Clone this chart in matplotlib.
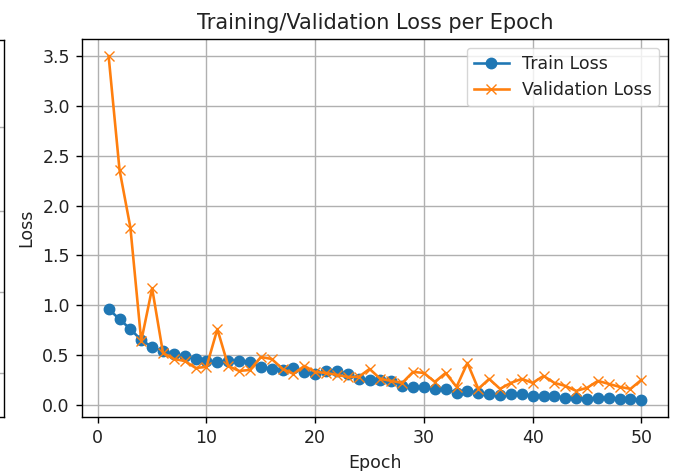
import matplotlib
matplotlib.use("Agg")
import matplotlib.pyplot as plt

epochs = list(range(1, 51))
train_loss = [0.96, 0.86, 0.76, 0.65, 0.58, 0.54, 0.51, 0.49, 0.46, 0.44,
              0.43, 0.44, 0.44, 0.43, 0.38, 0.36, 0.35, 0.37, 0.33, 0.31,
              0.34, 0.34, 0.31, 0.26, 0.25, 0.25, 0.24, 0.19, 0.18, 0.18,
              0.16, 0.16, 0.12, 0.14, 0.12, 0.11, 0.10, 0.11, 0.11, 0.09,
              0.09, 0.09, 0.07, 0.07, 0.06, 0.07, 0.07, 0.06, 0.06, 0.05]
val_loss = [3.50, 2.36, 1.78, 0.64, 1.17, 0.52, 0.46, 0.44, 0.37, 0.38,
            0.76, 0.39, 0.34, 0.35, 0.48, 0.46, 0.36, 0.31, 0.39, 0.33,
            0.32, 0.30, 0.28, 0.28, 0.36, 0.26, 0.24, 0.22, 0.33, 0.32,
            0.23, 0.32, 0.18, 0.42, 0.16, 0.26, 0.16, 0.22, 0.26, 0.22,
            0.29, 0.22, 0.19, 0.14, 0.17, 0.24, 0.21, 0.18, 0.16, 0.25]

title = "Training/Validation Loss per Epoch"
xlabel = "Epoch"
ylabel = "Loss"

s = 1.25
plt.rcParams.update({
    'font.size': 10 * s,
    'axes.titlesize': 12 * s,
    'axes.labelsize': 10 * s,
    'xtick.labelsize': 10 * s,
    'ytick.labelsize': 10 * s,
    'legend.fontsize': 10 * s,
    'lines.linewidth': 1.5 * s,
    'lines.markersize': 6 * s,
    'axes.linewidth': 0.8 * s,
    'grid.linewidth': 0.8 * s,
    'xtick.major.size': 3.5 * s,
    'ytick.major.size': 3.5 * s,
    'xtick.major.width': 0.8 * s,
    'ytick.major.width': 0.8 * s,
    'xtick.major.pad': 3.5 * s,
    'ytick.major.pad': 3.5 * s,
    'axes.titlepad': 6 * s,
    'axes.labelpad': 4 * s,
    'text.color': '#222222',
    'axes.labelcolor': '#222222',
    'xtick.labelcolor': '#222222',
    'ytick.labelcolor': '#222222',
})

W, H = 687, 471
fig = plt.figure(figsize=(W / 100, H / 100), dpi=100)

# partial neighbouring axes on the left edge
axn = fig.add_axes([-0.3, 1 - 417 / H, 0.3 + 4 / W, (417 - 40) / H])
axn.set_xlim(0, 1)
axn.set_ylim(0, 1)
axn.set_yticks([0.117, 0.332, 0.546, 0.769])
axn.set_xticks([])
axn.tick_params(length=0, labelleft=False)
axn.grid(True, axis='y', color='#b0b0b0')

ax = fig.add_axes([82 / W, 1 - 417 / H, (668 - 82) / W, (417 - 39) / H])
ax.plot(epochs, train_loss, marker='o', label='Train Loss')
ax.plot(epochs, val_loss, marker='x', label='Validation Loss')
ax.set_title(title)
ax.set_xlabel(xlabel)
ax.set_ylabel(ylabel)
ax.grid(True)
ax.legend(loc='upper right')

fig.savefig("out.png", dpi=100)
